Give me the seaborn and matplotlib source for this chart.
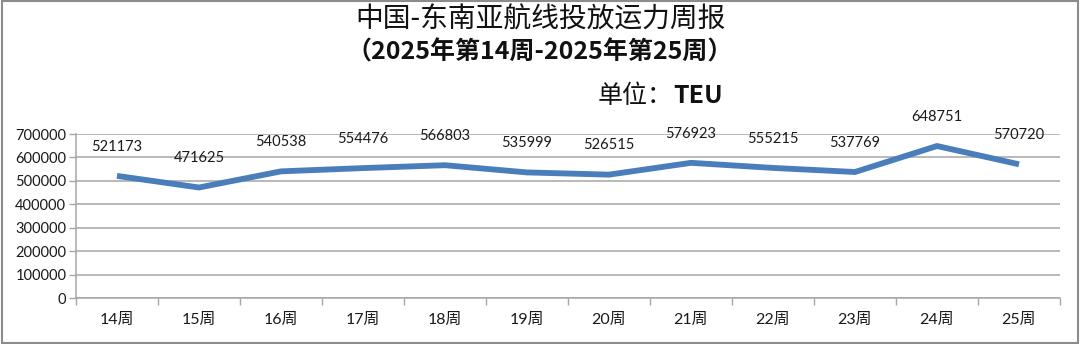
import matplotlib
matplotlib.use("Agg")
import matplotlib.pyplot as plt
import seaborn as sns
import pandas as pd
import numpy as np
from matplotlib.patches import Rectangle

weeks = ["14周", "15周", "16周", "17周", "18周", "19周", "20周", "21周", "22周", "23周", "24周", "25周"]
capacity = [521173, 471625, 540538, 554476, 566803, 535999, 526515, 576923, 555215, 537769, 648751, 570720]
y_ticks = [0, 100000, 200000, 300000, 400000, 500000, 600000, 700000]

title1 = "中国-东南亚航线投放运力周报"
title2 = "（2025年第14周-2025年第25周）"
unit_label = "单位："
unit_bold = "TEU"

sns.set_theme(style="white")
plt.rcParams['font.family'] = ['Lato', 'Noto Sans CJK SC', 'DejaVu Sans']

df = pd.DataFrame({"week": weeks, "capacity": capacity, "pos": np.arange(len(weeks))})

fig = plt.figure(figsize=(10.8, 3.44), dpi=100)
ax = fig.add_axes([76/1080, 1-298/344, (1060-76)/1080, (298-134)/344])

sns.lineplot(data=df, x="pos", y="capacity", ax=ax, color="#4A7EBB", linewidth=4.2,
             sort=False, solid_capstyle="butt", solid_joinstyle="miter")

for p, v in zip(df["pos"], df["capacity"]):
    ax.annotate(str(v), (p, v), xytext=(0, 16), textcoords="offset points",
                ha="center", va="bottom", fontsize=10.5, color="#1a1a1a",
                annotation_clip=False)

ax.set_xlim(-0.5, len(weeks) - 0.5)
ax.set_ylim(0, 700000)
ax.set_yticks(y_ticks)
ax.set_yticklabels([str(t) for t in y_ticks], fontsize=10.5, color="#1a1a1a")
ax.yaxis.grid(True, color="#A6A6A6", linewidth=1.1)
ax.set_axisbelow(True)

ax.set_xticks(np.arange(-0.5, len(weeks)), minor=False)
ax.set_xticklabels([])
ax.set_xticks(np.arange(len(weeks)), minor=True)
ax.set_xticklabels(weeks, minor=True, fontsize=11.5, color="#1a1a1a")
ax.tick_params(axis="x", which="major", length=5, width=1, color="#A6A6A6", direction="out", bottom=True)
ax.tick_params(axis="x", which="minor", length=0, pad=11)
ax.tick_params(axis="y", length=5, width=1, color="#A6A6A6", direction="out", left=True, pad=2)

ax.set_xlabel("")
ax.set_ylabel("")
for s in ["top", "right"]:
    ax.spines[s].set_visible(False)
for s in ["left", "bottom"]:
    ax.spines[s].set_color("#A6A6A6")
    ax.spines[s].set_linewidth(1.1)

fig.text(541/1080, 1-20/344, title1, ha="center", va="center", fontsize=20,
         family=["Noto Sans CJK SC"], color="#111111")
fig.text(540/1080, 1-52/344, title2, ha="center", va="center", fontsize=18,
         family=["Noto Sans CJK SC"], fontweight="bold", color="#111111")
fig.text(673/1080, 1-96/344, unit_label, ha="right", va="center", fontsize=18,
         family=["Noto Sans CJK SC"], color="#111111")
fig.text(673/1080, 1-96/344, unit_bold, ha="left", va="center", fontsize=18,
         family=["Noto Sans CJK SC"], fontweight="bold", color="#111111")

fig.patches.append(Rectangle((0.002, 0.004), 0.996, 0.992, transform=fig.transFigure,
                             fill=False, edgecolor="#8C8C8C", linewidth=1.5))

fig.savefig("out.png", dpi=100)
